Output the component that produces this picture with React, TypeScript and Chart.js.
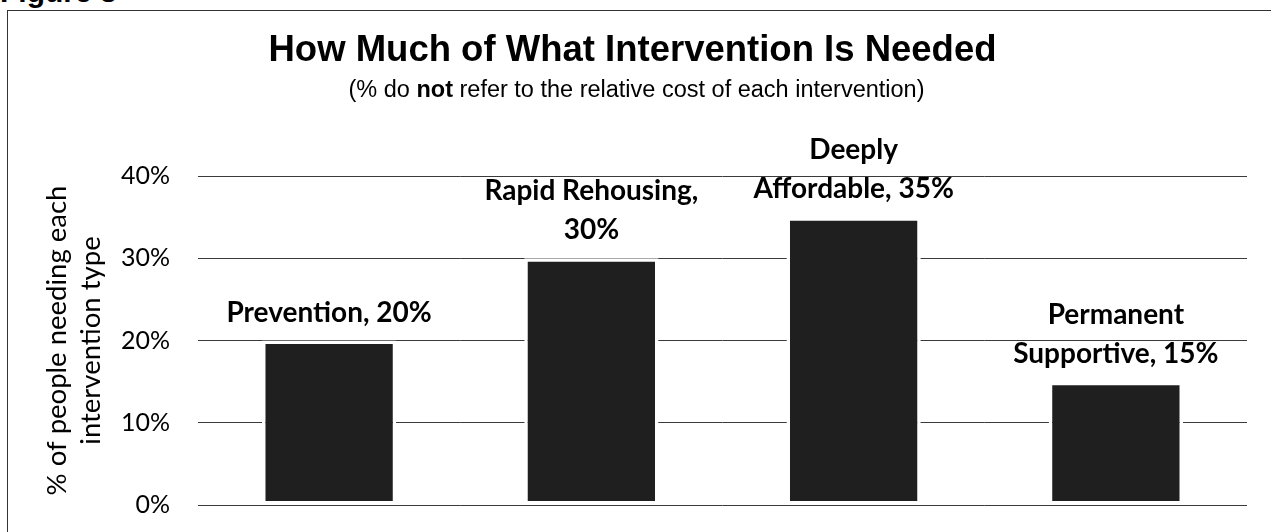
import React, { useEffect, useRef } from 'react';
import { Chart, registerables } from 'chart.js';

Chart.register(...registerables);

// ---- data ----
const categories = ['Prevention', 'Rapid Rehousing', 'Deeply Affordable', 'Permanent Supportive'];
const values = [20, 30, 35, 15];
const labelLines = [
  ['Prevention, 20%'],
  ['Rapid Rehousing,', '30%'],
  ['Deeply', 'Affordable, 35%'],
  ['Permanent', 'Supportive, 15%'],
];
const yTicks = [0, 10, 20, 30, 40];
const titleText = 'How Much of What Intervention Is Needed';
const subtitleParts: [string, boolean][] = [
  ['(% do ', false],
  ['not', true],
  [' refer to the relative cost of each intervention)', false],
];
const yTitleLines = ['% of people needing each', 'intervention type'];
const figureLabel = 'Figure 3';

const SANS = '"Liberation Sans", Arial, Helvetica, sans-serif';
const LATO = 'Lato, "Noto Sans", sans-serif';

const headerPlugin = {
  id: 'headerText',
  afterDraw(chart: any) {
    const ctx = chart.ctx as CanvasRenderingContext2D;
    const cx = chart.width / 2 - 7;
    ctx.save();
    ctx.fillStyle = '#000';
    ctx.textBaseline = 'alphabetic';
    ctx.textAlign = 'center';
    ctx.font = `bold 36.5px ${SANS}`;
    ctx.fillText(titleText, cx, 50);

    const reg = `23.5px ${SANS}`;
    const bold = `bold 23.5px ${SANS}`;
    let total = 0;
    const widths = subtitleParts.map(([t, b]) => {
      ctx.font = b ? bold : reg;
      const w = ctx.measureText(t).width;
      total += w;
      return w;
    });
    let x = cx + 4 - total / 2;
    ctx.textAlign = 'left';
    subtitleParts.forEach(([t, b], i) => {
      ctx.font = b ? bold : reg;
      ctx.fillText(t, x, 86);
      x += widths[i];
    });
    ctx.restore();
  },
};

const barLabelPlugin = {
  id: 'barLabels',
  afterDatasetsDraw(chart: any) {
    const ctx = chart.ctx as CanvasRenderingContext2D;
    const meta = chart.getDatasetMeta(0);
    ctx.save();
    ctx.fillStyle = '#000';
    ctx.font = `bold 28px ${LATO}`;
    ctx.textAlign = 'center';
    ctx.textBaseline = 'alphabetic';
    const lh = 39;
    meta.data.forEach((bar: any, i: number) => {
      const lines = labelLines[i];
      const baseY = bar.y - 19;
      lines.forEach((ln, j) => {
        ctx.fillText(ln, bar.x, baseY - (lines.length - 1 - j) * lh);
      });
    });
    ctx.restore();
  },
};

export default function App() {
  const canvasRef = useRef<HTMLCanvasElement | null>(null);

  useEffect(() => {
    if (!canvasRef.current) return;
    const chart = new Chart(canvasRef.current, {
      type: 'bar',
      data: {
        labels: categories,
        datasets: [
          {
            data: values,
            backgroundColor: '#1f1f1f',
            borderColor: '#ffffff',
            borderWidth: 3.5,
            borderSkipped: false,
            barPercentage: 0.512,
            categoryPercentage: 1,
          },
        ],
      },
      options: {
        animation: false,
        responsive: false,
        maintainAspectRatio: false,
        layout: { padding: { left: 0, right: 24, top: 165, bottom: 27 } },
        plugins: {
          legend: { display: false },
          title: { display: false },
          tooltip: { enabled: false },
        },
        scales: {
          x: { display: false },
          y: {
            min: 0,
            max: 40,
            afterFit(scale: any) {
              scale.width = 190;
            },
            afterBuildTicks(scale: any) {
              scale.ticks = yTicks.map((v) => ({ value: v }));
            },
            ticks: {
              padding: 0,
              color: '#000',
              font: { family: LATO, size: 25 },
              callback: (v: any) => `${v}%`,
            },
            grid: {
              color: '#3a3a3a',
              lineWidth: 1,
              drawTicks: true,
              tickLength: 28,
              tickColor: 'rgba(0,0,0,0)',
            },
            border: { display: false },
            title: {
              display: true,
              text: yTitleLines,
              color: '#000',
              font: { family: LATO, size: 27.5, lineHeight: 34 / 27.5 },
              padding: { top: 32, bottom: 0 },
            },
          },
        },
      },
      plugins: [headerPlugin, barLabelPlugin],
    });
    return () => chart.destroy();
  }, []);

  return (
    <div
      style={{
        position: 'fixed',
        left: 0,
        top: 0,
        width: 1271,
        height: 532,
        overflow: 'hidden',
        background: '#fff',
      }}
    >
      <div
        style={{
          position: 'absolute',
          left: 0,
          top: -23,
          font: `bold 30px ${SANS}`,
          lineHeight: '30px',
          color: '#000',
          whiteSpace: 'nowrap',
        }}
      >
        {figureLabel}
      </div>
      <div
        style={{
          position: 'absolute',
          left: 7,
          top: 10,
          width: 1320,
          height: 600,
          border: '1px solid #333',
        }}
      />
      <canvas
        ref={canvasRef}
        width={1263}
        height={521}
        style={{ position: 'absolute', left: 8, top: 11 }}
      />
    </div>
  );
}
